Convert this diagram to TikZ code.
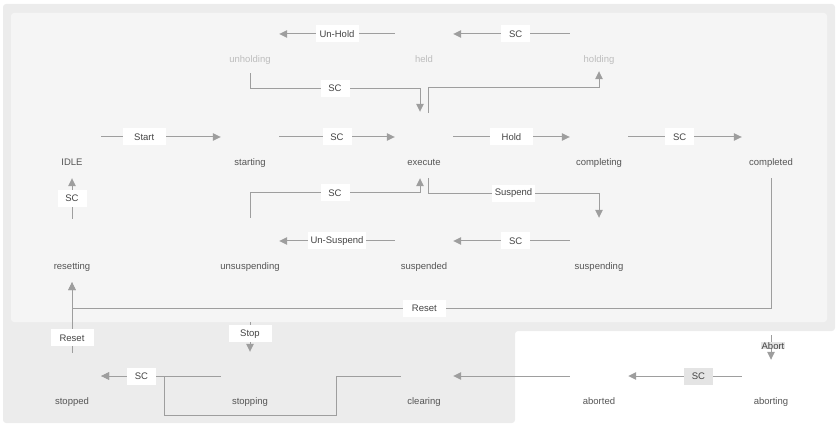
\documentclass[tikz,border=0pt]{standalone}
\usepackage{fontspec}
\setmainfont{Liberation Sans}
\usetikzlibrary{arrows.meta}
\definecolor{outerbg}{HTML}{ECECEC}
\definecolor{innerbg}{HTML}{F5F5F5}
\definecolor{flowline}{HTML}{9E9E9E}
\definecolor{statetext}{HTML}{555555}
\definecolor{holdtext}{HTML}{BDBDBD}
\definecolor{lbltext}{HTML}{444444}
\definecolor{lblgray}{HTML}{E4E4E4}
\begin{document}
\begin{tikzpicture}[x=1pt,y=-1pt,
		font=\fontsize{9.5}{11}\selectfont,
		statelbl/.style={text=statetext,inner sep=1pt,text height=7pt,text depth=2pt},
		state/.style={minimum size=38pt,inner sep=0pt,label={[statelbl,label distance=1pt]below:#1}},
		hstate/.style={minimum size=38pt,inner sep=0pt,label={[statelbl,text=holdtext,label distance=1pt]below:#1}},
		flow/.style={draw=flowline,line width=1pt,-{Triangle[length=8pt,width=7.5pt]}},
		hflow/.style={flow,shorten <=10pt,shorten >=10pt},
		lbl/.style={fill=white,text=lbltext,minimum width=43pt,minimum height=17pt,inner xsep=3pt,inner ysep=0pt},
		sc/.style={lbl,minimum width=29pt}]
		\useasboundingbox (0,0) rectangle (837,427);
		\fill [outerbg, rounded corners=3pt] (3,4) -- (835,4) -- (835,331) -- (515,331) -- (515,423) -- (3,423) -- cycle;
		\fill [innerbg, rounded corners=3pt] (11,13) rectangle (827,322);
		\node [hstate=unholding] (unholding) at (250,34) {};
		\node [hstate=held] (held) at (424,34) {};
		\node [hstate=holding] (holding) at (599,34) {};
		\node [state=IDLE] (idle) at (72,137) {};
		\node [state=starting] (starting) at (250,137) {};
		\node [state=execute] (execute) at (424,137) {};
		\node [state=completing] (completing) at (599,137) {};
		\node [state=completed] (completed) at (771,137) {};
		\node [state=resetting] (resetting) at (72,241) {};
		\node [state=unsuspending] (unsuspending) at (250,241) {};
		\node [state=suspended] (suspended) at (424,241) {};
		\node [state=suspending] (suspending) at (599,241) {};
		\node [state=stopped] (stopped) at (72,376) {};
		\node [state=stopping] (stopping) at (250,376) {};
		\node [state=clearing] (clearing) at (424,376) {};
		\node [state=aborted] (aborted) at (599,376) {};
		\node [state=aborting] (aborting) at (771,376) {};
		\coordinate (stopsrc) at (250,322);
		\coordinate (abortsrc) at (771,335);
		\draw [hflow] (idle) -- node[lbl,pos=0.38] {Start} (starting);
		\draw [hflow] (starting) -- node[sc] {SC} (execute);
		\draw [hflow] (execute) -- node[lbl] {Hold} (completing);
		\draw [hflow] (completing) -- node[sc,pos=0.46] {SC} (completed);
		\draw [hflow] (holding) -- node[sc,pos=0.47] {SC} (held);
		\draw [hflow] (held) -- node[lbl] {Un-Hold} (unholding);
		\draw [hflow] (suspending) -- node[sc,pos=0.47] {SC} (suspended);
		\draw [hflow] (suspended) -- node[lbl] {Un-Suspend} (unsuspending);
		\draw [hflow] (aborted) -- (clearing);
		\draw [hflow] (aborting) -- node[sc,fill=lblgray,pos=0.4] {SC} (aborted);
		\draw [flow] ([xshift=-4pt]clearing.west) -- ++(-64,0) -- ++(0,39) -- ++(-172,0) -- ++(0,-39) -- ([xshift=10pt]stopped.east);
		\draw [hflow] (stopping) -- node[sc,pos=0.64] {SC} (stopped);
		\draw [flow] ([yshift=-20pt]unholding.south) -- ++(0,15) -| node[sc,pos=0.25] {SC} ([xshift=-4pt,yshift=6pt]execute.north);
		\draw [flow] ([xshift=4pt,yshift=5pt]execute.north) -- ++(0,-25) -| ([yshift=-18pt]holding.south);
		\draw [flow] ([xshift=4pt,yshift=-22pt]execute.south) -- ++(0,15) -| node[lbl,pos=0.25] {Suspend} ([yshift=4pt]suspending.north);
		\draw [flow] ([yshift=4pt]unsuspending.north) -- ++(0,-25) -| node[sc,pos=0.25] {SC} ([xshift=-4pt,yshift=-22pt]execute.south);
		\draw [flow] ([yshift=3pt]resetting.north) -- node[sc] {SC} ([yshift=-22pt]idle.south);
		\draw [flow] ([yshift=-22pt]completed.south) -- ++(0,130) -| node[lbl,pos=0.248] {Reset} ([yshift=-22pt]resetting.south);
		\draw [flow] ([yshift=4pt]stopped.north) -- node[lbl,pos=0.21] {Reset} ([yshift=-22pt]resetting.south);
		\draw [flow] (stopsrc) -- node[lbl,pos=0.4] {Stop} ([yshift=5pt]stopping.north);
		\draw [flow] (abortsrc) -- node[fill=lblgray,text=lbltext,inner xsep=1pt,inner ysep=0pt,xshift=2pt,pos=0.44] {Abort} ([yshift=-3pt]aborting.north);
	\end{tikzpicture}
\end{document}
